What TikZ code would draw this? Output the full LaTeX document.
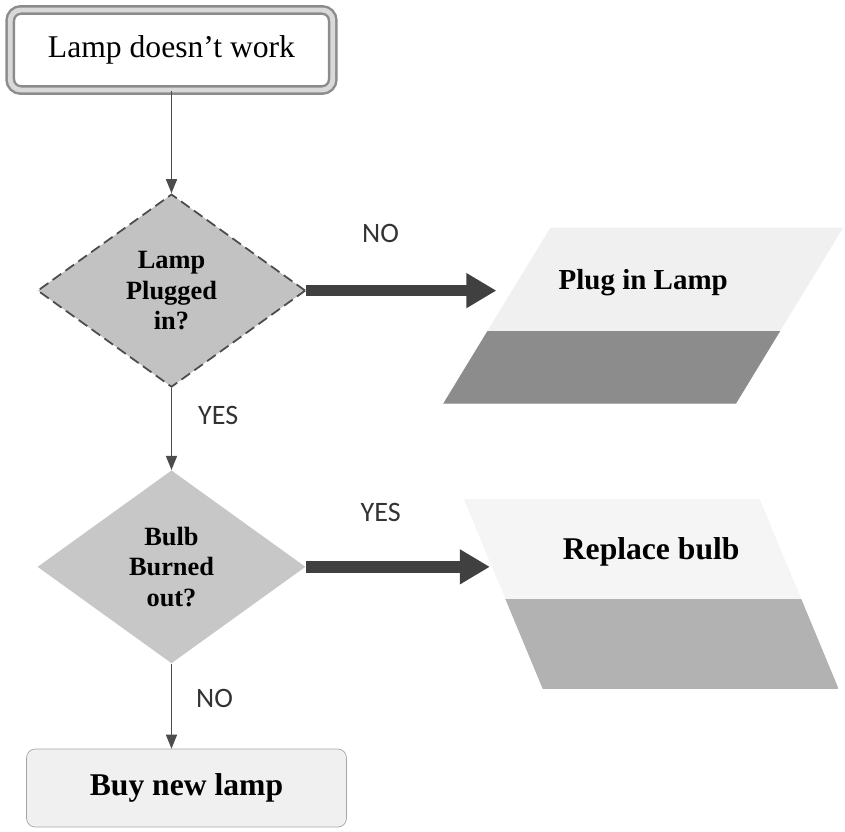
\documentclass[tikz,border=0pt]{standalone}
\usepackage{fontspec}
\setmainfont{Liberation Serif}
\newfontfamily\lblfont{Carlito}
\usetikzlibrary{shapes.geometric,arrows.meta,positioning}
\tikzset{
  startnode/.style={rectangle,rounded corners=6pt,draw=black!45,line width=1.4pt,
    double=black!15,double distance=2.8pt,minimum width=6.45cm,minimum height=1.6cm,
    text centered,font=\fontsize{18}{20}\selectfont},
  decnode/.style={diamond,aspect=1.39,minimum width=5.36cm,minimum height=3.86cm,
    inner sep=0pt,align=center,font=\fontsize{15}{17.5}\selectfont\bfseries},
  actnode/.style={trapezium,trapezium stretches=true,inner sep=2pt,fill=black!6},
  acttext/.style={font=\fontsize{18}{20}\selectfont\bfseries},
  endnode/.style={rectangle,rounded corners=5pt,draw=black!35,fill=black!6,
    minimum width=6.4cm,minimum height=1.56cm,font=\fontsize{18}{20}\selectfont\bfseries},
  lbl/.style={font=\lblfont\fontsize{16}{18}\selectfont,text=black!80,inner sep=0pt},
  arrow/.style={-{Triangle[length=0.28cm,width=0.22cm]},draw=black!70,line width=0.8pt},
  bigarrow/.style={-{Triangle[length=0.6cm,width=0.66cm]},draw=black!75,line width=6.5pt},
}

\begin{document}
\begin{tikzpicture}
  \useasboundingbox (0,0) rectangle (16.9,16.62);
  \node[startnode] (start) at (3.43,15.62) {Lamp doesn’t work};
  \node[decnode, fill=black!24, draw=black!70, line width=1pt, dash pattern=on 6pt off 3pt,
    below=2.04cm of start] (d1) {Lamp\\Plugged\\in?};
  \node[decnode, fill=black!22, below=1.64cm of d1] (d2) {Bulb\\Burned\\out?};
  \node[endnode, below=1.7cm of d2, xshift=0.3cm] (buy) {Buy new lamp};

  \node[actnode, trapezium left angle=60, trapezium right angle=120,
    minimum width=8cm, minimum height=3.52cm, right=3.8cm of d1, yshift=-0.5cm,
    path picture={\fill[black!45] (path picture bounding box.south west)
      rectangle ([yshift=-0.3cm]path picture bounding box.east);}] (plug) {};
  \node[acttext, font=\fontsize{16.5}{18}\selectfont\bfseries] (plugtxt)
    at ([yshift=0.66cm]plug.center) {Plug in Lamp};
  \node[actnode, fill=black!4, trapezium left angle=110, trapezium right angle=70,
    minimum width=7.5cm, minimum height=3.8cm, right=3.94cm of d2, yshift=-0.54cm,
    path picture={\fill[black!30] (path picture bounding box.south west)
      rectangle ([yshift=-0.1cm]path picture bounding box.east);}] (rep) {};
  \node[acttext] (reptxt) at ([yshift=0.84cm]rep.center) {Replace bulb};

  \draw[arrow] (start)--(d1);
  \draw[bigarrow] (d1.east)--node[lbl,above=0.84cm,pos=0.39]{NO} (d1.east -| plug.west);
  \draw[arrow] (d1)--node[lbl,right=0.52cm,pos=0.34]{YES} (d2);
  \draw[bigarrow,shorten >=0.26cm] (d2.east)--node[lbl,above=0.78cm,pos=0.38]{YES}
    (d2.east -| rep.west);
  \draw[arrow] (d2.south)--node[lbl,right=0.48cm,pos=0.41]{NO} (d2.south |- buy.north);
\end{tikzpicture}
\end{document}
